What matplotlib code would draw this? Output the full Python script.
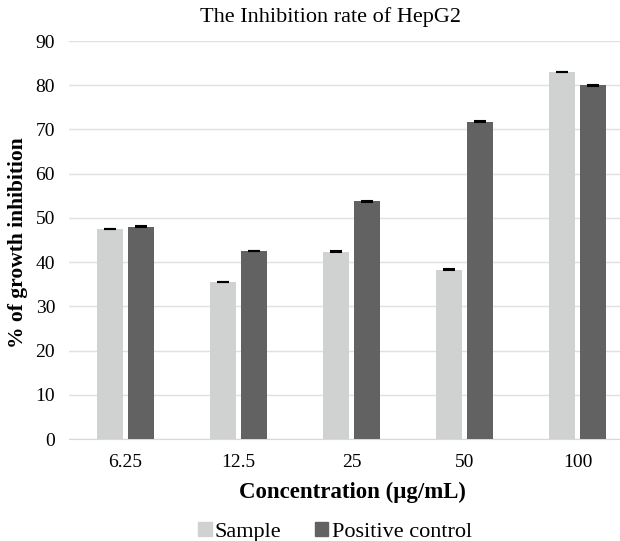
import numpy as np
import matplotlib.pyplot as plt
from matplotlib.patches import Patch

plt.rcParams['font.family'] = ['Liberation Serif', 'DejaVu Serif']

concentrations = ["6.25", "12.5", "25", "50", "100"]
sample = [47.5, 35.5, 42.3, 38.3, 83.0]
positive = [48.0, 42.5, 53.8, 71.7, 80.0]
sample_err = [0.1, 0.1, 0.1, 0.1, 0.1]
positive_err = [0.1, 0.1, 0.1, 0.1, 0.1]

c_sample = "#D0D2D1"
c_pos = "#626262"

fig = plt.figure(figsize=(6.2, 5.41), dpi=100)
# plot area runs a little past the right edge, like the cropped original
ax = fig.add_axes([69/620, 1-439/541, 565/620, 398/541])

x = np.arange(len(concentrations))
w = 0.23
ax.bar(x - 0.139, sample, w, color=c_sample, zorder=3)
ax.bar(x + 0.139, positive, w, color=c_pos, zorder=3)
ax.errorbar(x - 0.139, sample, yerr=sample_err, fmt='none', ecolor='black',
            elinewidth=1, capsize=4, capthick=1.5, zorder=4)
ax.errorbar(x + 0.139, positive, yerr=positive_err, fmt='none', ecolor='black',
            elinewidth=1, capsize=4, capthick=1.5, zorder=4)

ax.set_xlim(-0.5, len(x) - 0.5)
ax.set_ylim(0, 90)
ax.set_yticks(np.arange(0, 91, 10))
ax.set_xticks(x)
ax.set_xticklabels(concentrations)
ax.tick_params(axis='both', length=0, labelsize=14)
ax.tick_params(axis='x', pad=11)
ax.tick_params(axis='y', pad=10)
ax.grid(axis='y', color='#E0E0E0', lw=1, zorder=0)
for s in ['top', 'right', 'left']:
    ax.spines[s].set_visible(False)
ax.spines['bottom'].set_color('#D9D9D9')

fig.text(330/620, 1-17/541, "The Inhibition rate of HepG2", ha='center', va='center', fontsize=16)
fig.text(352/620, 1-492/541, "Concentration (μg/mL)", ha='center', va='center',
         fontsize=16.5, fontweight='bold')
fig.text(18/620, 1-243/541, "% of growth inhibition", ha='center', va='center',
         fontsize=15.5, fontweight='bold', rotation=90)

handles = [Patch(color=c_sample, label="Sample"), Patch(color=c_pos, label="Positive control")]
fig.legend(handles=handles, loc='center', bbox_to_anchor=(335/620, 1-532/541), ncol=2,
           frameon=False, fontsize=16, handlelength=0.6, handleheight=0.6,
           handletextpad=0.15, columnspacing=1.5)

fig.savefig("out.png", dpi=100)
